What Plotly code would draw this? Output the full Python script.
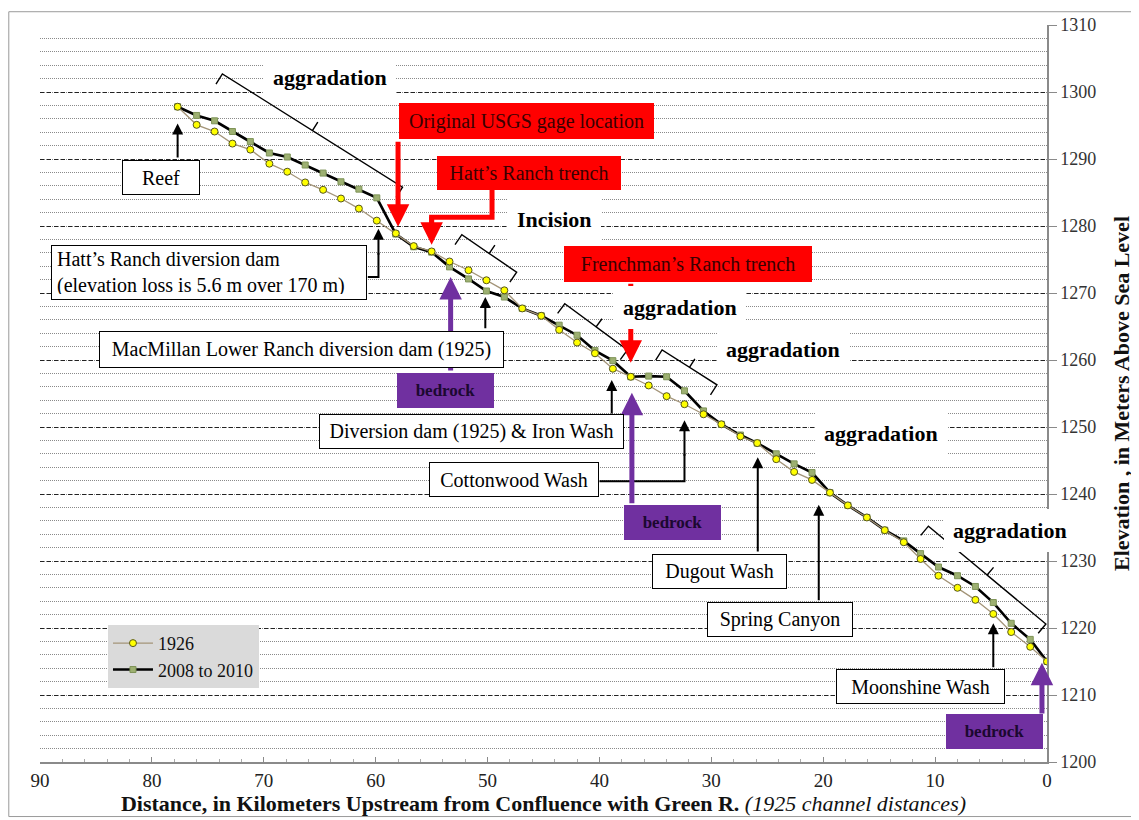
import math
import plotly.graph_objects as go

# -----------------------------
# 1. Profile data (read off the 1926 survey and the 2008-2010 resurvey)
# -----------------------------
km = [77.7, 76.0, 74.4, 72.8, 71.2, 69.5, 67.9, 66.3, 64.7, 63.1, 61.5, 59.9,
      58.2, 56.6, 55.0, 53.4, 51.7, 50.1, 48.5, 46.9, 45.2, 43.6, 42.0, 40.4,
      38.8, 37.2, 35.6, 34.0, 32.4, 30.7, 29.1, 27.4, 25.9, 24.2, 22.6, 21.0,
      19.4, 17.8, 16.1, 14.5, 12.8, 11.3, 9.7, 8.0, 6.4, 4.8, 3.2, 1.5, 0.0]

elev_1926 = [1297.8, 1295.1, 1294.1, 1292.3, 1291.4, 1289.3, 1288.1, 1286.5,
             1285.4, 1284.1, 1282.6, 1280.8, 1278.9, 1277.0, 1276.2, 1274.7,
             1273.4, 1271.9, 1270.4, 1267.7, 1266.6, 1264.5, 1262.6, 1261.0,
             1258.7, 1257.5, 1256.2, 1254.6, 1253.4, 1251.9, 1250.4, 1248.6,
             1247.6, 1245.2, 1243.3, 1242.1, 1240.2, 1238.3, 1236.5, 1234.6,
             1232.8, 1230.3, 1227.8, 1226.0, 1224.2, 1222.1, 1219.4, 1217.2,
             1215.0]

elev_2008 = [1297.8, 1296.5, 1295.7, 1294.1, 1292.6, 1290.9, 1290.3, 1289.1,
             1287.9, 1286.6, 1285.5, 1284.2, 1278.8, 1276.9, 1276.1, 1273.9,
             1272.1, 1270.3, 1269.4, 1267.7, 1266.6, 1265.2, 1263.7, 1261.4,
             1259.9, 1257.5, 1257.6, 1257.5, 1255.4, 1252.4, 1250.4, 1248.8,
             1247.6, 1246.0, 1244.5, 1243.2, 1240.2, 1238.3, 1236.5, 1234.6,
             1233.0, 1231.1, 1229.1, 1227.8, 1226.2, 1223.8, 1220.7, 1218.3,
             1215.0]

x_ticks = [90, 80, 70, 60, 50, 40, 30, 20, 10, 0]
y_ticks = [1200, 1210, 1220, 1230, 1240, 1250, 1260, 1270, 1280, 1290, 1300, 1310]

SERIF = "Liberation Serif, Times New Roman, serif"
RED = "#FF0000"
PURPLE = "#7030A0"

# screen scale of the axes (px per km, px per m) - used to keep braces square
SX = 1007 / 90
SY = 737 / 110

fig = go.Figure()

# -----------------------------
# 2. Traces
# -----------------------------
fig.add_trace(go.Scatter(
    x=km, y=elev_2008, name="2008 to 2010", mode="lines+markers",
    line=dict(color="black", width=2.6),
    marker=dict(symbol="square", size=6, color="#9DB071",
                line=dict(color="#7E9357", width=1)),
))
fig.add_trace(go.Scatter(
    x=km, y=elev_1926, name="1926", mode="lines+markers",
    line=dict(color="#A39478", width=1.3),
    marker=dict(symbol="circle", size=7, color="#FFFF00",
                line=dict(color="#55551E", width=1)),
))


# -----------------------------
# 3. Helpers for the callouts
# -----------------------------
def brace(k0, e0, k1, e1, hook=12, tick=10):
    # bracket along the channel, ends hooked toward the profile
    x0, y0 = -k0 * SX, -e0 * SY
    x1, y1 = -k1 * SX, -e1 * SY
    L = math.hypot(x1 - x0, y1 - y0)
    ux, uy = (x1 - x0) / L, (y1 - y0) / L
    nx, ny = -uy, ux
    mx, my = (x0 + x1) / 2, (y0 + y1) / 2
    pts = [(x0 + nx * hook, y0 + ny * hook), (x0, y0), (mx, my),
           (mx - nx * tick, my - ny * tick), (mx, my), (x1, y1),
           (x1 + nx * hook, y1 + ny * hook)]
    path = "M " + " L ".join(f"{-px / SX:.3f},{-py / SY:.3f}" for px, py in pts)
    fig.add_shape(type="path", path=path, xref="x", yref="y",
                  line=dict(color="black", width=1.4), layer="above")


def arrow(tip, tail, color="black", width=2):
    fig.add_annotation(x=tip[0], y=tip[1], ax=tail[0], ay=tail[1],
                       xref="x", yref="y", axref="x", ayref="y", text="",
                       showarrow=True, arrowhead=2, arrowsize=1.1 if width < 3 else 0.9,
                       arrowwidth=width, arrowcolor=color, standoff=0, startstandoff=0)


def elbow(points, color="black", width=2):
    path = "M " + " L ".join(f"{k},{e}" for k, e in points)
    fig.add_shape(type="path", path=path, xref="x", yref="y",
                  line=dict(color=color, width=width), layer="above")


def box(k, e, text, w=None, h=None, bg="white", border="black", color="black",
        size=20, bold=False, align="center", pad=4):
    kw = {}
    if w:
        kw["width"] = w - 2 * pad - 2
    if h:
        kw["height"] = h - 2 * pad - 2
    fig.add_annotation(x=k, y=e, xref="x", yref="y", text=f"<b>{text}</b>" if bold else text,
                       showarrow=False, align=align, bgcolor=bg,
                       bordercolor=border, borderwidth=1 if border else 0, borderpad=pad,
                       font=dict(family=SERIF, size=size, color=color), **kw)


# braces
brace(73.7, 1302.7, 57.6, 1285.8)
brace(52.3, 1278.7, 47.4, 1273.1)
brace(43.1, 1268.4, 37.5, 1261.5)
brace(34.4, 1261.5, 29.5, 1256.3)
brace(10.6, 1235.2, 0.1, 1220.6)

# black location arrows
arrow((77.7, 1295.3), (77.7, 1290.0))
elbow([(60.7, 1272.4), (59.75, 1272.4), (59.75, 1276.0)])
arrow((59.75, 1279.6), (59.75, 1275.5))
arrow((50.2, 1269.4), (50.2, 1264.5))
arrow((38.9, 1257.0), (38.9, 1251.8))
elbow([(40.0, 1241.9), (32.4, 1241.9), (32.4, 1246.0)])
arrow((32.4, 1251.0), (32.4, 1245.5))
arrow((25.85, 1245.5), (25.85, 1231.2))
arrow((20.4, 1238.4), (20.4, 1223.9))
arrow((4.8, 1220.7), (4.8, 1213.9))

# red (trench / gage) arrows
arrow((58.0, 1279.9), (58.0, 1292.8), color=RED, width=5)
elbow([(49.6, 1285.5), (49.6, 1281.3), (55.0, 1281.3), (55.0, 1280.0)], color=RED, width=5)
arrow((55.0, 1277.2), (55.0, 1281.6), color=RED, width=5)
arrow((37.2, 1259.6), (37.2, 1271.6), color=RED, width=5)

# purple bedrock arrows
arrow((53.3, 1272.4), (53.3, 1258.2), color=PURPLE, width=5)
arrow((37.1, 1255.1), (37.1, 1238.4), color=PURPLE, width=5)
arrow((0.45, 1214.8), (0.45, 1207.0), color=PURPLE, width=5)

# labelled boxes
box(79.2, 1287.3, "Reef", 78, 35)
box(74.9, 1273.1, "Hatt\u2019s Ranch diversion dam<br>(elevation loss is 5.6 m over 170 m)",
    316, 55, align="left", pad=5)
box(66.6, 1261.6, "MacMillan Lower Ranch diversion dam (1925)", 405, 37)
box(51.4, 1249.3, "Diversion dam (1925) &amp; Iron Wash", 305, 35)
box(47.6, 1242.1, "Cottonwood Wash", 170, 35)
box(29.3, 1228.4, "Dugout Wash", 135, 35)
box(23.9, 1221.2, "Spring Canyon", 146, 35)
box(11.3, 1211.3, "Moonshine Wash", 169, 35)

box(46.5, 1295.7, "Original USGS gage location", 255, 36, bg=RED, border=RED, color="#3A0000")
box(46.3, 1287.9, "Hatt\u2019s Ranch trench", 184, 34, bg=RED, border=RED, color="#3A0000")
box(32.1, 1274.3, "Frenchman\u2019s Ranch trench", 248, 36, bg=RED, border=RED, color="#3A0000")

for k, e in [(53.8, 1255.5), (33.5, 1235.8), (4.7, 1204.6)]:
    box(k, e, "bedrock", 97, 35, bg=PURPLE, border=PURPLE, color="#1C0830", size=17, bold=True)

# process labels
for k, e, t in [(64.1, 1302.2, "aggradation"), (44.0, 1281.0, "Incision"),
                (32.8, 1267.8, "aggradation"), (23.6, 1261.6, "aggradation"),
                (14.8, 1249.1, "aggradation"), (3.3, 1234.5, "aggradation")]:
    box(k, e, t, border=None, size=22, bold=True, pad=9)

# thin frame round the whole picture
fig.add_shape(type="rect", xref="paper", yref="paper",
              x0=-0.031, x1=1.089, y0=-0.074, y1=1.018,
              line=dict(color="#9A9A9A", width=1))

# -----------------------------
# 4. Layout (page body adds an 8 px margin, so the figure is 8 px smaller)
# -----------------------------
fig.update_layout(
    width=1131, height=812,
    margin=dict(l=32, r=92, t=17, b=58),
    paper_bgcolor="white", plot_bgcolor="white",
    font=dict(family=SERIF, size=17, color="#222"),
    showlegend=True,
    legend=dict(x=0.0675, y=0.186, xanchor="left", yanchor="top",
                bgcolor="#DADADA", traceorder="reversed",
                font=dict(family=SERIF, size=18, color="#111"),
                itemwidth=40, tracegroupgap=2),
    xaxis=dict(
        range=[90, 0], tickvals=x_ticks, showgrid=False, zeroline=False,
        automargin=False,
        showline=True, linecolor="#8A8A8A", linewidth=1.5,
        ticks="inside", ticklen=5, tickcolor="#8A8A8A",
        minor=dict(dtick=2, ticks="inside", ticklen=3, tickcolor="#AAAAAA"),
        tickfont=dict(family=SERIF, size=19, color="#222"),
        title=dict(text="<b>Distance, in Kilometers Upstream from Confluence with Green R.</b> "
                        "<i>(1925 channel distances)</i>",
                   font=dict(family=SERIF, size=22, color="#111"), standoff=2),
    ),
    yaxis=dict(
        range=[1200, 1310], tickvals=y_ticks, side="right", zeroline=False,
        automargin=False,
        showline=True, linecolor="#8A8A8A", linewidth=1.5,
        ticks="outside", ticklen=8, tickcolor="#8A8A8A",
        showgrid=True, gridcolor="#222", gridwidth=1, griddash="4px,3px",
        minor=dict(dtick=2, showgrid=True, gridcolor="#8A8A8A", gridwidth=1,
                   griddash="1px,1px"),
        tickfont=dict(family=SERIF, size=18, color="#333"),
        title=dict(text="<b>Elevation , in Meters Above Sea Level</b>",
                   font=dict(family=SERIF, size=22, color="#111"), standoff=18),
    ),
)

fig.write_html("out.html")
